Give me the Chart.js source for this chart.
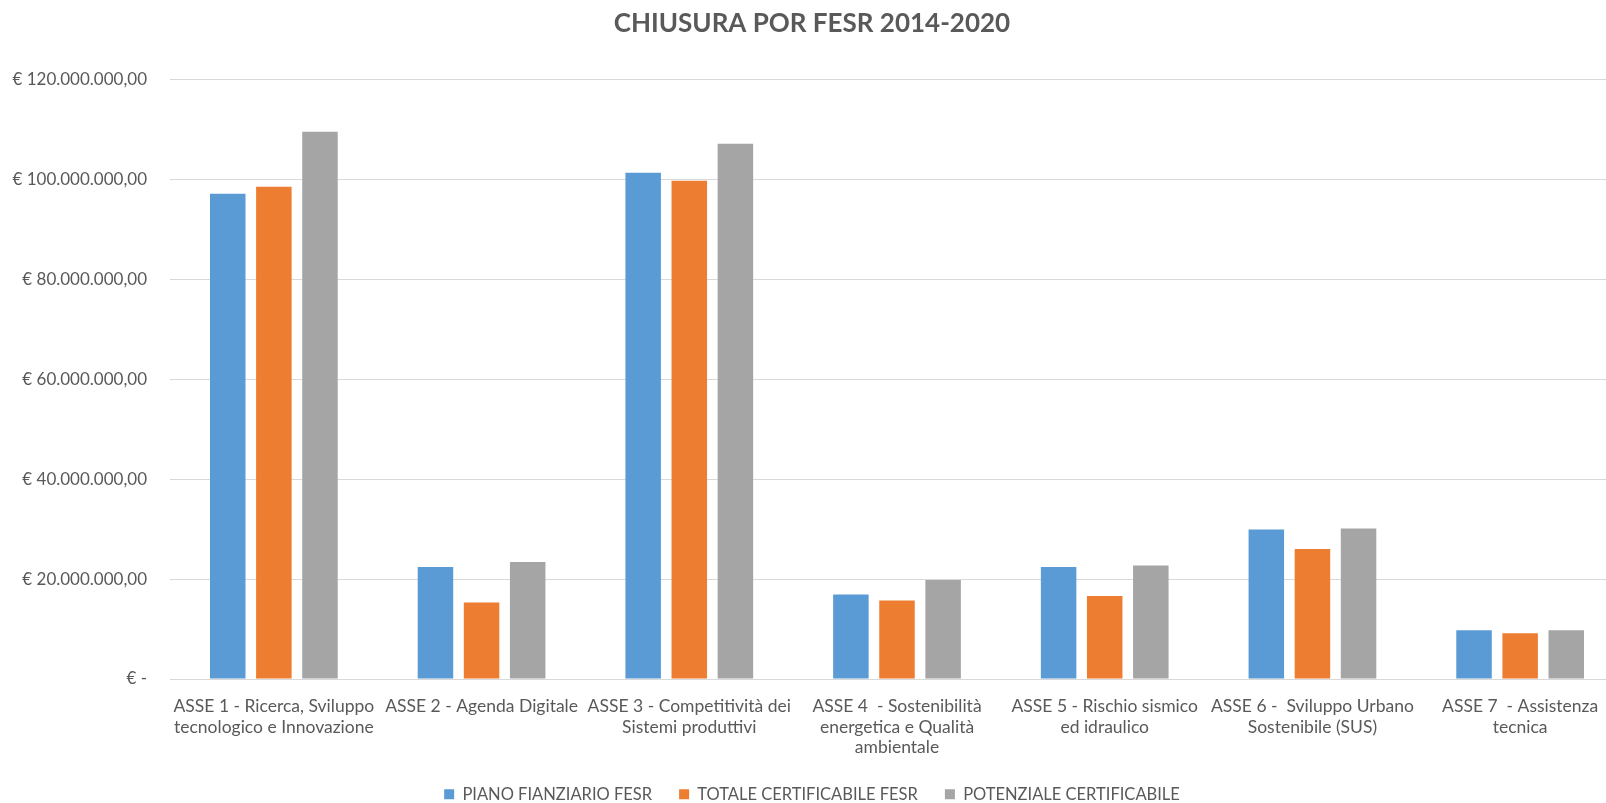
<!DOCTYPE html>
<html lang="it">
<head>
  <meta charset="UTF-8" />
  <title>Chiusura POR FESR 2014-2020</title>
  <script src="https://cdn.jsdelivr.net/npm/chart.js"></script>
  <style>
    html, body { margin: 0; padding: 0; background: #fff; overflow: hidden; }
    /* the original picture is cropped on the right, so the chart is a bit wider than the window */
    #wrap { position: absolute; left: 0; top: 0; width: 1624px; height: 803px; }
  </style>
</head>
<body>
  <div id="wrap"><canvas id="fesrChart"></canvas></div>

  <script>
    // categories (multi-line labels as in the original)
    const categories = [
      ["ASSE 1 - Ricerca, Sviluppo", "tecnologico e Innovazione"],
      ["ASSE 2 - Agenda Digitale"],
      ["ASSE 3 - Competitività dei", "Sistemi produttivi"],
      ["ASSE 4  - Sostenibilità", "energetica e Qualità", "ambientale"],
      ["ASSE 5 - Rischio sismico", "ed idraulico"],
      ["ASSE 6 -  Sviluppo Urbano", "Sostenibile (SUS)"],
      ["ASSE 7  - Assistenza", "tecnica"]
    ];
    const seriesNames = ["PIANO FIANZIARIO FESR", "TOTALE CERTIFICABILE FESR", "POTENZIALE CERTIFICABILE"];

    // values in euro
    const pianoFinanziario = [97100000, 22400000, 101300000, 16900000, 22400000, 29900000, 9740000];
    const totaleCertificabile = [98500000, 15300000, 99700000, 15700000, 16600000, 26000000, 9130000];
    const potenzialeCertificabile = [109500000, 23400000, 107100000, 19800000, 22700000, 30100000, 9740000];

    const yTicks = [0, 20000000, 40000000, 60000000, 80000000, 100000000, 120000000];

    const TEXT = "#595959";
    const GRID = "#d9d9d9";

    function euro(v) {
      if (v === 0) return "€ -";
      const s = Math.round(v).toString().replace(/\B(?=(\d{3})+(?!\d))/g, ".");
      return "€ " + s + ",00";
    }

    const ctx = document.getElementById("fesrChart").getContext("2d");
    new Chart(ctx, {
      type: "bar",
      data: {
        labels: categories,
        datasets: [
          { label: seriesNames[0], data: pianoFinanziario, backgroundColor: "#5b9bd5" },
          { label: seriesNames[1], data: totaleCertificabile, backgroundColor: "#ed7d31" },
          { label: seriesNames[2], data: potenzialeCertificabile, backgroundColor: "#a5a5a5" }
        ]
      },
      options: {
        responsive: true,
        maintainAspectRatio: false,
        animation: false,
        layout: { padding: 0 },
        datasets: { bar: { categoryPercentage: 0.666, barPercentage: 0.77 } },
        plugins: {
          title: {
            display: true,
            text: "CHIUSURA POR FESR 2014-2020",
            color: TEXT,
            font: { family: "Lato", size: 26, weight: "bold" },
            padding: { top: 8, bottom: 40 }
          },
          legend: {
            position: "bottom",
            maxHeight: 44,
            labels: {
              color: TEXT,
              font: { family: "Lato", size: 16.5 },
              boxWidth: 10,
              boxHeight: 10,
              padding: 27
            }
          },
          tooltip: { enabled: false }
        },
        scales: {
          x: {
            grid: { display: false, drawTicks: false },
            border: { color: GRID },
            afterFit: (scale) => { scale.height = 80; },
            ticks: {
              color: TEXT,
              font: { family: "Lato", size: 17.5, lineHeight: 1.18 },
              padding: 17,
              maxRotation: 0,
              autoSkip: false
            }
          },
          y: {
            min: 0,
            max: 120000000,
            afterBuildTicks: (axis) => { axis.ticks = yTicks.map(v => ({ value: v })); },
            afterFit: (scale) => { scale.width = 170; },
            grid: { color: GRID, drawTicks: false },
            border: { display: false },
            ticks: {
              color: TEXT,
              font: { family: "Lato", size: 17 },
              padding: 23,
              callback: (v) => euro(v)
            }
          }
        }
      }
    });
  </script>
</body>
</html>
